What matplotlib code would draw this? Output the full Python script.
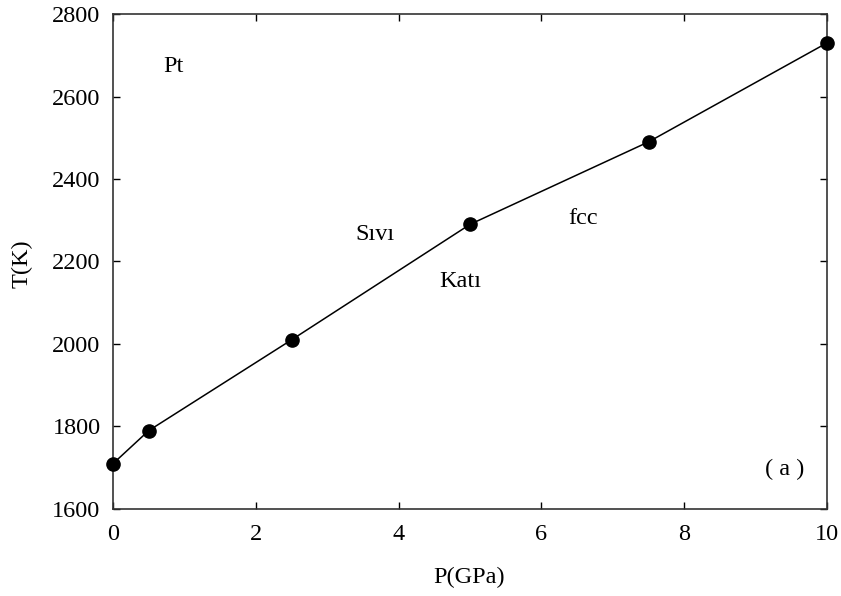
import matplotlib
matplotlib.use("Agg")
import matplotlib.pyplot as plt

plt.rcParams['font.family'] = ['Liberation Serif', 'DejaVu Serif']

# melting curve of Pt
pressure = [0, 0.5, 2.5, 5, 7.5, 10]        # GPa
temperature = [1710, 1790, 2010, 2290, 2490, 2730]  # K

xticks = [0, 2, 4, 6, 8, 10]
yticks = [1600, 1800, 2000, 2200, 2400, 2600, 2800]

fs = 17.5

fig = plt.figure(figsize=(8.41, 5.96), dpi=100)
ax = fig.add_axes([0.1344, 0.146, 0.849, 0.8305])

ax.plot(pressure, temperature, color='black', lw=1.1, marker='o',
        markersize=9.5, markerfacecolor='black', markeredgecolor='black',
        clip_on=False, zorder=3)

ax.set_xlim(0, 10)
ax.set_ylim(1600, 2800)
ax.set_xticks(xticks)
ax.set_yticks(yticks)
ax.tick_params(direction='in', length=5, width=1, labelsize=fs,
               top=True, right=True)
ax.tick_params(axis='x', pad=11)
ax.tick_params(axis='y', pad=9)
for s in ax.spines.values():
    s.set_linewidth(1.2)
    s.set_color('#333333')

ax.set_xlabel('P(GPa)', fontsize=fs)
ax.set_ylabel('T(K)', fontsize=fs)
ax.xaxis.set_label_coords(0.499, -0.116)
ax.yaxis.set_label_coords(-0.113, 0.496)

ax.text(0.85, 2672, 'Pt', fontsize=fs, ha='center', va='center')
ax.text(3.67, 2265, 'Sıvı', fontsize=fs, ha='center', va='center')
ax.text(4.87, 2152, 'Katı', fontsize=fs, ha='center', va='center')
ax.text(6.58, 2305, 'fcc', fontsize=fs, ha='center', va='center')
ax.text(9.41, 1697, '( a )', fontsize=fs, ha='center', va='center')

fig.savefig('out.png', dpi=100)
